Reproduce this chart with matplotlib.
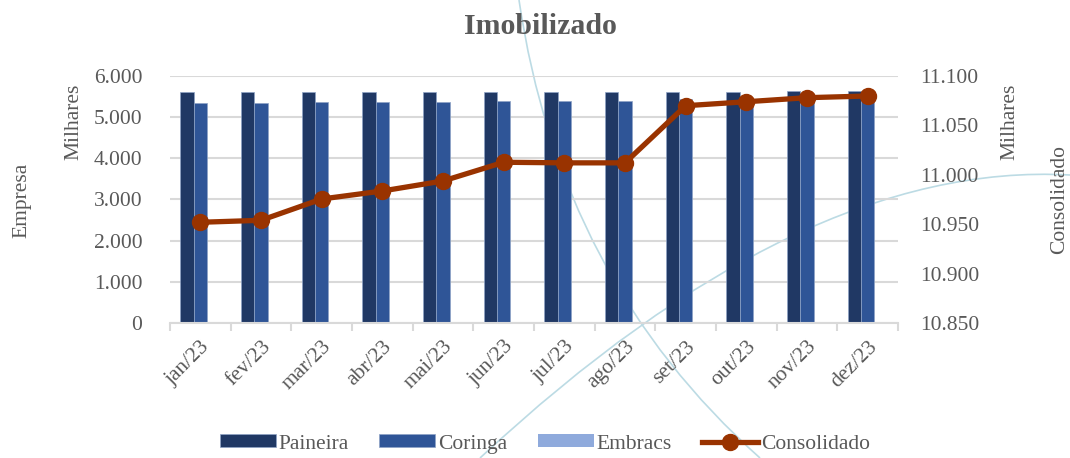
import matplotlib
matplotlib.use("Agg")
import matplotlib.pyplot as plt
import numpy as np
from matplotlib.path import Path
from matplotlib.patches import PathPatch
from matplotlib.ticker import FuncFormatter, MultipleLocator

meses = ["jan/23", "fev/23", "mar/23", "abr/23", "mai/23", "jun/23",
         "jul/23", "ago/23", "set/23", "out/23", "nov/23", "dez/23"]
# valores em milhares
paineira = [5593, 5593, 5593, 5600, 5600, 5617, 5617, 5600, 5600, 5617, 5620, 5625]
coringa = [5327, 5327, 5351, 5351, 5359, 5375, 5375, 5375, 5424, 5435, 5445, 5455]
embracs = [0, 0, 0, 0, 0, 0, 0, 0, 0, 0, 0, 0]
consolidado = [10952, 10954, 10975.5, 10983.6, 10993.7, 11012.6,
               11012, 11012, 11069.7, 11073.7, 11077.8, 11079.5]

cor_paineira = "#203864"
cor_coringa = "#2f5597"
cor_embracs = "#8faadc"
cor_consol = "#993300"
cinza = "#595959"

plt.rcParams['font.family'] = ['Liberation Serif', 'DejaVu Serif']

W, H = 1070, 458
fig = plt.figure(figsize=(W / 100, H / 100), dpi=100)

# decorative background curves (slide template)
def fx(p):
    return (p[0] / W, 1 - p[1] / H)

for pts in [[(519, 0), (560, 280), (760, 458)],
            [(480, 458), (800, 160), (1070, 175)]]:
    path = Path([fx(p) for p in pts], [Path.MOVETO, Path.CURVE3, Path.CURVE3])
    fig.add_artist(PathPatch(path, facecolor="none", edgecolor="#bcdbe4",
                             linewidth=1.2, transform=fig.transFigure, zorder=-1))

ax = fig.add_axes([170 / W, 1 - 323.3 / H, 728 / W, 247.6 / H])
ax.patch.set_visible(False)

x = np.arange(len(meses))
w = 0.22
ax.bar(x - w, paineira, w, color=cor_paineira, edgecolor="#8ea3c6", linewidth=0.5,
       label="Paineira", zorder=2)
ax.bar(x, coringa, w, color=cor_coringa, edgecolor="#8ea3c6", linewidth=0.5,
       label="Coringa", zorder=2)
ax.bar(x + w, embracs, w, color=cor_embracs, linewidth=0, label="Embracs", zorder=2)

ax.set_xlim(-0.5, len(meses) - 0.5)
ax.set_ylim(0, 6000)
ax.yaxis.set_major_locator(MultipleLocator(1000))
fmt = FuncFormatter(lambda v, p: f"{v:,.0f}".replace(",", "."))
ax.yaxis.set_major_formatter(fmt)
ax.grid(axis="y", color="#d9d9d9", linewidth=1.5, zorder=0)
ax.set_axisbelow(True)
for s in ["top", "left", "right"]:
    ax.spines[s].set_visible(False)
ax.spines["bottom"].set_color("#d9d9d9")
ax.spines["bottom"].set_linewidth(1.5)

ax.set_xticks(x)
ax.set_xticklabels(meses, rotation=45, ha="right", rotation_mode="anchor")
ax.set_xticks(np.arange(-0.5, len(meses)), minor=True)
ax.tick_params(axis="x", which="major", length=0, pad=10, labelsize=15.5, labelcolor=cinza)
ax.tick_params(axis="x", which="minor", length=6, width=1.5, color="#d9d9d9")
ax.tick_params(axis="y", length=0, pad=20, labelsize=15.5, labelcolor=cinza)

ax2 = ax.twinx()
ax2.plot(x, consolidado, color=cor_consol, linewidth=3.8, marker="o", markersize=11.5,
         label="Consolidado", zorder=5)
ax2.set_ylim(10850, 11100)
ax2.yaxis.set_major_locator(MultipleLocator(50))
ax2.yaxis.set_major_formatter(fmt)
for s in ["top", "left", "right", "bottom"]:
    ax2.spines[s].set_visible(False)
ax2.tick_params(axis="y", length=0, pad=16, labelsize=15.5, labelcolor=cinza)

fig.text(540 / W, 1 - 27 / H, "Imobilizado", ha="center", va="center",
         fontsize=21.5, fontweight="bold", color=cinza)
fig.text(22 / W, 1 - 200 / H, "Empresa", rotation=90, ha="center", va="center",
         fontsize=15.5, color=cinza)
fig.text(74 / W, 1 - 122 / H, "Milhares", rotation=90, ha="center", va="center",
         fontsize=15.5, color=cinza)
fig.text(1010 / W, 1 - 122 / H, "Milhares", rotation=90, ha="center", va="center",
         fontsize=15.5, color=cinza)
fig.text(1060 / W, 1 - 200 / H, "Consolidado", rotation=90, ha="center", va="center",
         fontsize=15.5, color=cinza)

h1, l1 = ax.get_legend_handles_labels()
h2, l2 = ax2.get_legend_handles_labels()
fig.legend(h1 + h2, l1 + l2, loc="center", bbox_to_anchor=(545 / W, 1 - 444 / H),
           ncol=4, frameon=False, fontsize=15.5, labelcolor=cinza,
           handlelength=2.6, handleheight=0.55, handletextpad=0.15, columnspacing=1.4)

fig.savefig("out.png", dpi=100)
